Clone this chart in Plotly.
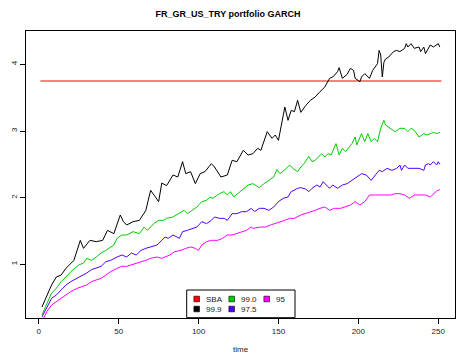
import plotly.graph_objects as go

# Portfolio VaR-based capital paths (GARCH), by confidence level
sba_level = 3.75
t_sba = [1, 252]

t_999 = [2, 8, 11, 14, 17, 20, 22, 26, 28, 32, 36, 40, 43, 47, 49, 51, 53, 55, 59, 63,
         67, 70, 73, 75, 77, 80, 84, 87, 90, 92, 95, 98, 101, 104, 108, 110, 114, 118,
         121, 124, 128, 131, 134, 137, 139, 143, 146, 148, 150, 152, 154, 156, 158, 160,
         162, 164, 167, 170, 173, 176, 179, 182, 184, 187, 188, 190, 193, 195, 197, 198,
         201, 202, 204, 207, 209, 212, 213, 214, 215, 216, 217, 219, 222, 224, 226, 229,
         230, 231, 233, 235, 238, 239, 241, 242, 245, 247, 250, 251]
v_999 = [0.36, 0.69, 0.81, 0.84, 0.94, 1.02, 1.06, 1.36, 1.24, 1.36, 1.34, 1.36, 1.51, 1.46,
         1.61, 1.74, 1.64, 1.59, 1.64, 1.66, 1.81, 2.11, 2.01, 1.94, 2.22, 2.18, 2.34, 2.31,
         2.54, 2.36, 2.39, 2.21, 2.36, 2.39, 2.51, 2.46, 2.31, 2.34, 2.56, 2.54, 2.71, 2.64,
         2.66, 2.74, 2.71, 2.99, 2.89, 2.94, 2.86, 3.11, 3.36, 3.16, 3.31, 3.29, 3.46, 3.28,
         3.38, 3.46, 3.51, 3.59, 3.66, 3.79, 3.81, 3.89, 3.95, 3.79, 3.85, 3.94, 3.91, 3.79,
         3.74, 3.81, 3.86, 3.79, 3.91, 4.01, 4.21, 4.14, 3.81, 4.03, 4.08, 4.11, 4.19, 4.21,
         4.19, 4.24, 4.31, 4.26, 4.31, 4.24, 4.26, 4.19, 4.26, 4.16, 4.29, 4.26, 4.31, 4.26]

t_990 = [2, 5, 8, 11, 14, 17, 20, 25, 28, 30, 33, 36, 39, 42, 47, 49, 52, 55, 59, 63, 66,
         68, 72, 75, 78, 80, 84, 88, 91, 93, 96, 99, 102, 105, 107, 109, 113, 116, 118, 120,
         122, 126, 129, 131, 134, 138, 141, 144, 147, 149, 151, 155, 157, 159, 162, 164, 166,
         169, 171, 173, 175, 177, 179, 181, 183, 186, 188, 190, 192, 196, 198, 199, 202, 204,
         206, 208, 210, 212, 214, 216, 217, 220, 223, 226, 229, 231, 233, 235, 238, 241, 243,
         245, 247, 249, 251]
v_990 = [0.24, 0.42, 0.57, 0.64, 0.74, 0.81, 0.89, 0.99, 1.02, 1.09, 1.06, 1.11, 1.17, 1.21,
         1.29, 1.39, 1.44, 1.44, 1.49, 1.46, 1.56, 1.51, 1.61, 1.66, 1.66, 1.69, 1.71, 1.77,
         1.81, 1.76, 1.81, 1.86, 1.94, 1.96, 2.01, 1.99, 2.06, 2.09, 2.04, 2.09, 2.01, 2.09,
         2.16, 2.19, 2.21, 2.15, 2.21, 2.26, 2.31, 2.42, 2.36, 2.44, 2.49, 2.44, 2.39, 2.46,
         2.51, 2.62, 2.54, 2.56, 2.61, 2.66, 2.61, 2.66, 2.64, 2.81, 2.64, 2.74, 2.69, 2.81,
         2.91, 2.79, 2.96, 2.84, 2.96, 2.84, 2.89, 2.84, 3.04, 3.16, 3.09, 3.04, 2.99, 3.04,
         3.04, 2.99, 3.04, 3.01, 2.91, 2.96, 2.94, 2.96, 2.98, 2.96, 2.98]

t_975 = [2, 5, 8, 11, 14, 17, 20, 24, 27, 30, 33, 36, 39, 42, 45, 49, 52, 55, 58, 61, 64,
         67, 70, 74, 77, 79, 81, 84, 88, 90, 93, 96, 99, 102, 105, 108, 110, 113, 116, 118,
         121, 124, 127, 130, 133, 135, 138, 141, 144, 147, 150, 153, 156, 158, 162, 164, 167,
         169, 171, 174, 176, 178, 182, 184, 187, 190, 193, 196, 199, 202, 205, 208, 213, 215,
         218, 221, 224, 226, 227, 229, 231, 234, 238, 241, 242, 244, 245, 247, 249, 250, 251]
v_975 = [0.21, 0.36, 0.49, 0.54, 0.62, 0.69, 0.74, 0.79, 0.84, 0.87, 0.92, 0.94, 0.97, 1.04,
         1.06, 1.11, 1.14, 1.11, 1.17, 1.14, 1.21, 1.24, 1.26, 1.29, 1.36, 1.41, 1.39, 1.44,
         1.39, 1.49, 1.51, 1.54, 1.56, 1.64, 1.61, 1.66, 1.71, 1.69, 1.69, 1.66, 1.76, 1.76,
         1.79, 1.79, 1.84, 1.79, 1.84, 1.84, 1.81, 1.86, 1.94, 1.99, 2.01, 2.09, 2.14, 2.15,
         2.13, 2.09, 2.14, 2.19, 2.16, 2.24, 2.14, 2.19, 2.14, 2.19, 2.21, 2.26, 2.31, 2.36,
         2.34, 2.26, 2.41, 2.39, 2.44, 2.41, 2.44, 2.49, 2.41, 2.49, 2.44, 2.44, 2.44, 2.41,
         2.49, 2.51, 2.49, 2.54, 2.49, 2.54, 2.50]

t_950 = [3, 5, 8, 11, 14, 17, 20, 24, 27, 30, 33, 36, 39, 42, 45, 49, 52, 55, 58, 61, 64,
         67, 70, 74, 77, 79, 82, 85, 89, 92, 95, 98, 100, 102, 105, 108, 112, 115, 118, 121,
         124, 127, 130, 133, 134, 139, 142, 145, 148, 151, 154, 157, 160, 164, 167, 170, 173,
         176, 179, 182, 185, 189, 192, 195, 198, 201, 204, 207, 210, 214, 217, 220, 223, 226,
         229, 232, 235, 239, 242, 245, 247, 249, 251]
v_950 = [0.19, 0.29, 0.39, 0.44, 0.49, 0.54, 0.59, 0.64, 0.67, 0.69, 0.74, 0.77, 0.79, 0.84,
         0.89, 0.94, 0.97, 0.97, 0.99, 1.02, 1.04, 1.06, 1.09, 1.11, 1.09, 1.11, 1.14, 1.19,
         1.21, 1.24, 1.26, 1.24, 1.21, 1.29, 1.34, 1.36, 1.36, 1.39, 1.44, 1.44, 1.46, 1.49,
         1.51, 1.56, 1.54, 1.56, 1.56, 1.59, 1.61, 1.64, 1.66, 1.69, 1.69, 1.74, 1.76, 1.79,
         1.81, 1.84, 1.86, 1.81, 1.84, 1.84, 1.86, 1.89, 1.94, 1.89, 1.94, 2.04, 2.04, 2.04,
         2.04, 2.04, 2.06, 2.06, 2.04, 1.99, 2.04, 2.04, 2.04, 2.01, 2.06, 2.10, 2.12]

x_ticks = [0, 50, 100, 150, 200, 250]
y_ticks = [1, 2, 3, 4]

legend_labels = ["SBA", "99.9", "99.0", "97.5", "95"]
legend_colors = ["#FF0000", "#000000", "#00CD00", "#5000FF", "#FF00FF"]

W, H = 456, 358
L, R, T, B = 26, 1, 31, 40
PW, PH = W - L - R, H - T - B


def px(x):
    return (x - L) / PW


def py(y):
    return (H - B - y) / PH


fig = go.Figure()
fig.add_trace(go.Scatter(x=t_sba, y=[sba_level, sba_level], mode="lines",
                         line=dict(color="#FF0000", width=1), showlegend=False))
for tt, vv, col in [(t_999, v_999, "#000000"), (t_990, v_990, "#00CD00"),
                    (t_975, v_975, "#5000FF"), (t_950, v_950, "#FF00FF")]:
    fig.add_trace(go.Scatter(x=tt, y=vv, mode="lines",
                             line=dict(color=col, width=1), showlegend=False))

# Legend box drawn at the bottom centre, 3 columns filled column-wise
shapes = [dict(type="rect", xref="paper", yref="paper",
               x0=px(186.7), x1=px(295), y0=py(317.7), y1=py(290),
               line=dict(color="black", width=1), fillcolor="white")]
annotations = []
col_sq = [196.7, 231.7, 266.7]
row_y = [299, 309]
for i, (lab, col) in enumerate(zip(legend_labels, legend_colors)):
    c, r = divmod(i, 2)
    cx, cy = col_sq[c], row_y[r]
    shapes.append(dict(type="rect", xref="paper", yref="paper",
                       x0=px(cx - 2.8), x1=px(cx + 2.8), y0=py(cy + 2.8), y1=py(cy - 2.8),
                       line=dict(color="black", width=0.6), fillcolor=col))
    annotations.append(dict(x=px(cx + 7.5), y=py(cy), xref="paper", yref="paper",
                            text=lab, showarrow=False, xanchor="left", yanchor="middle",
                            font=dict(size=8, color="#222222")))

annotations.append(dict(x=0.5, y=py(349), xref="paper", yref="paper", text="time",
                        showarrow=False, xanchor="center", yanchor="middle",
                        font=dict(size=8, color="#222222")))

fig.update_layout(
    width=W, height=H,
    margin=dict(l=L, r=R, t=T, b=B),
    paper_bgcolor="white", plot_bgcolor="white",
    font=dict(family="Liberation Sans, Arial, sans-serif", size=8, color="#222222"),
    title=dict(text="<b>FR_GR_US_TRY portfolio GARCH</b>", x=px(240.5), xanchor="center",
               y=1 - 14 / H, yanchor="middle", font=dict(size=9, color="black")),
    xaxis=dict(range=[-8, 260.5], tickvals=x_ticks, ticks="outside", ticklen=5,
               tickcolor="black", showline=True, linecolor="black", mirror=True,
               showgrid=False, zeroline=False, tickfont=dict(size=8)),
    yaxis=dict(range=[0.195, 4.5], tickvals=y_ticks, ticks="outside", ticklen=5,
               tickcolor="black", showline=True, linecolor="black", mirror=True,
               showgrid=False, zeroline=False, tickangle=-90, tickfont=dict(size=8)),
    shapes=shapes, annotations=annotations,
)

fig.write_html("out.html")
